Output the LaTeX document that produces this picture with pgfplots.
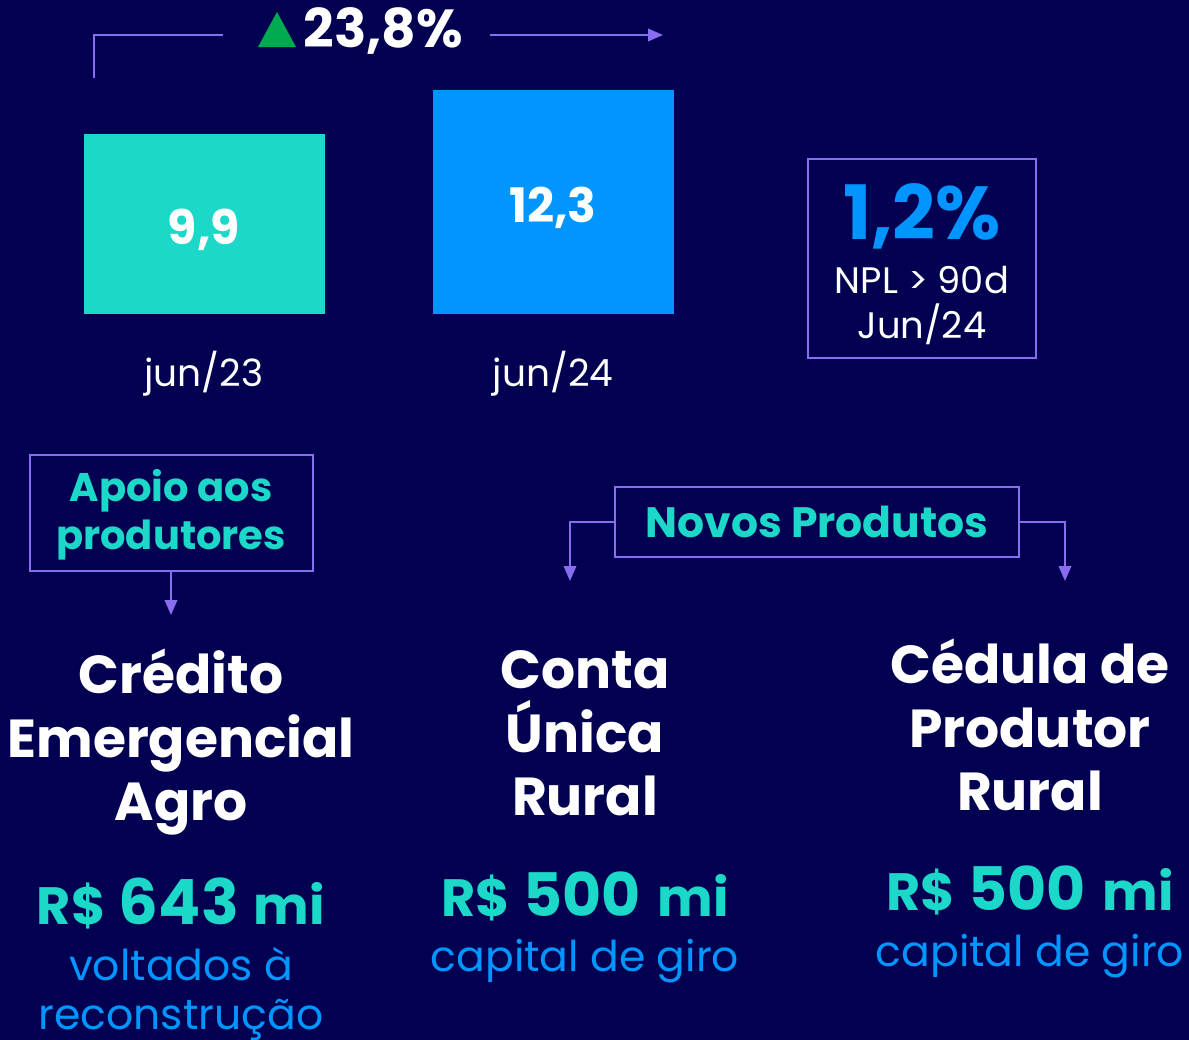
\documentclass[border=0pt]{standalone}
\usepackage{fontspec}
\setmainfont{Poppins}
\usepackage{pgfplots}
\pgfplotsset{compat=1.18}
\usetikzlibrary{arrows.meta}
\definecolor{bg}{RGB}{2,0,80}
\definecolor{tealc}{RGB}{28,216,200}
\definecolor{bluec}{RGB}{0,149,255}
\definecolor{purp}{RGB}{138,108,240}
\definecolor{greenc}{RGB}{0,170,80}
\begin{document}
\begin{tikzpicture}[x=0.4pt,y=-0.4pt,
  head/.style={anchor=base, inner sep=0pt, text=white, font=\bfseries\fontsize{21.4}{25}\selectfont},
  amt/.style={anchor=base, inner sep=0pt, text=tealc, font=\bfseries\fontsize{21}{24}\selectfont},
  sub/.style={anchor=base, inner sep=0pt, text=bluec, font=\fontsize{17}{20}\selectfont}]
\useasboundingbox (0,0) rectangle (1189,1040);
\fill[bg] (0,0) rectangle (1189,1040);
\coordinate (A) at (29.5,314);
\begin{axis}[at={(A)}, anchor=south west, scale only axis,
  width=279.2pt, height=109.1pt,
  xmin=-0.5, xmax=1.5, ymin=0, ymax=15,
  axis line style={draw=none}, tick style={draw=none},
  xtick={0,1}, xticklabels={jun/23,jun/24}, ytick=\empty,
  xticklabel style={text=white, font=\fontsize{15}{18}\selectfont, anchor=base, yshift=-28.8pt},
  clip=false, /pgf/number format/assume math mode=true]
\addplot[ybar, bar width=96.4pt, bar shift=0pt, fill=tealc, draw=none] coordinates {(0,9.9)};
\addplot[ybar, bar width=96.4pt, bar shift=0pt, fill=bluec, draw=none] coordinates {(1,12.3)};
\addplot[draw=none, mark=none, point meta=explicit,
  nodes near coords={\pgfmathprintnumber[use comma,fixed,fixed zerofill,precision=1]{\pgfplotspointmeta}},
  every node near coord/.style={anchor=center, yshift=-2.2pt, text=white, font=\bfseries\fontsize{19}{22}\selectfont}]
  coordinates {(0,4.95) [9.9] (1,6.15) [12.3]};
\end{axis}
% top growth annotation
\draw[purp, line width=0.8pt] (94,78) -- (94,35) -- (223,35);
\draw[purp, line width=0.8pt, -{Triangle[width=5pt,length=6pt]}] (490,35) -- (663,35);
\fill[greenc] (258,47) -- (296,47) -- (277,12) -- cycle;
\node[anchor=base west, inner sep=0pt, text=white, font=\bfseries\fontsize{21.4}{24}\selectfont] at (303,47) {23,8\%};
% NPL box
\draw[purp, line width=0.8pt] (808,159) rectangle (1036,358);
\node[anchor=base, inner sep=0pt, text=bluec, font=\bfseries\fontsize{30}{34}\selectfont] at (922,239) {1,2\%};
\node[anchor=base, inner sep=0pt, text=white, font=\fontsize{14.75}{18}\selectfont] at (922,293) {NPL > 90d};
\node[anchor=base, inner sep=0pt, text=white, font=\fontsize{14.75}{18}\selectfont] at (922,338) {Jun/24};
% Apoio box
\draw[purp, line width=0.8pt] (30,455) rectangle (313,571);
\node[align=center, text=tealc, font=\bfseries\fontsize{16}{19.2}\selectfont] at (171,515) {Apoio aos\\produtores};
\draw[purp, line width=0.8pt, -{Triangle[width=5pt,length=6pt]}] (171,571) -- (171,615);
% Novos produtos box
\draw[purp, line width=0.8pt] (615,487) rectangle (1019,557);
\node[text=tealc, font=\bfseries\fontsize{17}{20}\selectfont] at (817,522) {Novos Produtos};
\draw[purp, line width=0.8pt, -{Triangle[width=5pt,length=6pt]}] (615,522) -- (570,522) -- (570,581);
\draw[purp, line width=0.8pt, -{Triangle[width=5pt,length=6pt]}] (1019,522) -- (1065,522) -- (1065,581);
% headings
\node[head] at (181,693) {Crédito};
\node[head] at (181,757) {Emergencial};
\node[head] at (181,820) {Agro};
\node[head] at (585,688) {Conta};
\node[head] at (585,752) {Única};
\node[head] at (585,815) {Rural};
\node[head] at (1030,683) {Cédula de};
\node[head] at (1030,747) {Produtor};
\node[head] at (1030,810) {Rural};
% amounts
\node[amt] at (181,924) {R\$\hspace{5.3pt}{\fontsize{25}{30}\selectfont 643}\hspace{6pt}mi};
\node[amt] at (585,916) {R\$\hspace{5.3pt}{\fontsize{24}{30}\selectfont 500}\hspace{7pt}mi};
\node[amt] at (1030,910) {R\$\hspace{5.3pt}{\fontsize{24}{30}\selectfont 500}\hspace{7pt}mi};
\node[sub] at (181,980) {voltados à};
\node[sub] at (181,1029) {reconstrução};
\node[sub] at (585,971) {capital de giro};
\node[sub] at (1030,966) {capital de giro};
\end{tikzpicture}
\end{document}
